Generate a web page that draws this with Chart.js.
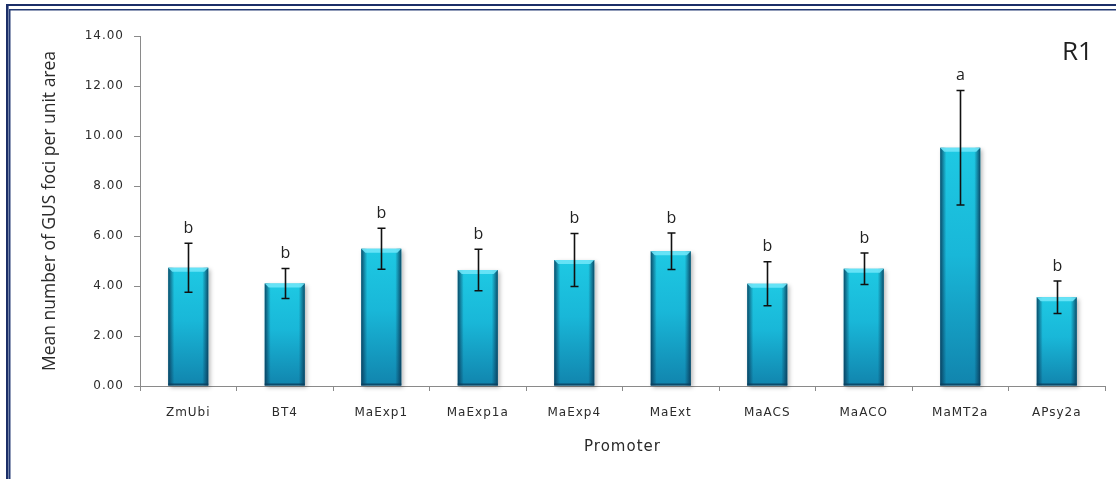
<!DOCTYPE html>
<html>
<head>
<meta charset="utf-8">
<script src="https://cdn.jsdelivr.net/npm/chart.js@4/dist/chart.umd.min.js"></script>
<style>
  html, body { margin: 0; padding: 0; background: #ffffff; }
  canvas { display: block; }
</style>
</head>
<body>
<canvas id="chart" width="1116" height="479"></canvas>
<script>
// Mean GUS foci per unit area for each promoter construct (R1)
const promoters = ['ZmUbi', 'BT4', 'MaExp1', 'MaExp1a', 'MaExp4', 'MaExt', 'MaACS', 'MaACO', 'MaMT2a', 'APsy2a'];
const meanFoci = [4.73, 4.10, 5.49, 4.64, 5.04, 5.39, 4.09, 4.69, 9.53, 3.55];
const errorFoci = [0.98, 0.60, 0.82, 0.83, 1.06, 0.73, 0.88, 0.63, 2.29, 0.65];
const groupLetters = ['b', 'b', 'b', 'b', 'b', 'b', 'b', 'b', 'a', 'b'];
const yTickValues = [0, 2, 4, 6, 8, 10, 12, 14];
const panelLabel = 'R1';

const AXIS_GREY = '#8a8a8a';
const TEXT_GREY = '#2b2b2b';

// Wide Excel-style spacing for axis text
function spaced(chart) { chart.ctx.letterSpacing = '1px'; }

const spacingPlugin = {
  id: 'spacing',
  beforeUpdate: spaced,
  beforeLayout: spaced,
  beforeDraw: spaced,
  afterLayout(chart) {
    const y = chart.scales.y;
    if (y && !y._plainTitle) {
      const orig = y.drawTitle;
      y.drawTitle = function (...args) {
        const c = this.ctx;
        c.save();
        c.letterSpacing = '0px';
        orig.apply(this, args);
        c.restore();
      };
      y._plainTitle = true;
    }
  }
};

// Soft drop shadow under each bar
const shadowPlugin = {
  id: 'barShadow',
  beforeDatasetsDraw(chart) {
    const ctx = chart.ctx;
    const meta = chart.getDatasetMeta(0);
    ctx.save();
    ctx.filter = 'blur(2px)';
    ctx.fillStyle = 'rgba(0,0,0,0.28)';
    meta.data.forEach(el => {
      const w = el.width;
      ctx.fillRect(el.x - w / 2 + 2, el.y + 2, w, el.base - el.y);
    });
    ctx.restore();
  }
};

// Bevel: dark side edges and a light top facet
const bevelPlugin = {
  id: 'bevel',
  afterDatasetsDraw(chart) {
    const ctx = chart.ctx;
    const meta = chart.getDatasetMeta(0);
    ctx.save();
    meta.data.forEach(el => {
      const w = el.width, l = el.x - w / 2, r = el.x + w / 2, t = el.y, b = el.base;
      let g = ctx.createLinearGradient(l, 0, l + 6, 0);
      g.addColorStop(0, 'rgba(8,55,85,0.85)');
      g.addColorStop(1, 'rgba(8,55,85,0)');
      ctx.fillStyle = g;
      ctx.fillRect(l, t, 6, b - t);
      g = ctx.createLinearGradient(r, 0, r - 6, 0);
      g.addColorStop(0, 'rgba(8,55,85,0.85)');
      g.addColorStop(1, 'rgba(8,55,85,0)');
      ctx.fillStyle = g;
      ctx.fillRect(r - 6, t, 6, b - t);
      // top facet
      ctx.beginPath();
      ctx.moveTo(l, t);
      ctx.lineTo(r, t);
      ctx.lineTo(r - 4, t + 4);
      ctx.lineTo(l + 4, t + 4);
      ctx.closePath();
      ctx.fillStyle = 'rgba(110,230,248,0.9)';
      ctx.fill();
      // bottom edge
      ctx.fillStyle = 'rgba(10,60,90,0.8)';
      ctx.fillRect(l, b - 2, w, 2);
    });
    ctx.restore();
  }
};

// Error bars and significance letters
const errorPlugin = {
  id: 'errorBars',
  afterDatasetsDraw(chart) {
    const ctx = chart.ctx;
    const y = chart.scales.y;
    const meta = chart.getDatasetMeta(0);
    ctx.save();
    ctx.letterSpacing = '0px';
    ctx.strokeStyle = '#111';
    ctx.lineWidth = 1.6;
    meta.data.forEach((el, i) => {
      const hi = y.getPixelForValue(meanFoci[i] + errorFoci[i]);
      const lo = y.getPixelForValue(meanFoci[i] - errorFoci[i]);
      const x = Math.round(el.x) + 0.5;
      ctx.beginPath();
      ctx.moveTo(x, hi); ctx.lineTo(x, lo);
      ctx.moveTo(x - 4, hi); ctx.lineTo(x + 4, hi);
      ctx.moveTo(x - 4, lo); ctx.lineTo(x + 4, lo);
      ctx.stroke();
      ctx.fillStyle = '#222';
      ctx.font = '16px "Open Sans"';
      ctx.textAlign = 'center';
      ctx.textBaseline = 'middle';
      ctx.fillText(groupLetters[i], x, hi - 15);
    });
    ctx.restore();
  }
};

// Panel tag and double frame
const framePlugin = {
  id: 'frame',
  afterDraw(chart) {
    const ctx = chart.ctx;
    ctx.save();
    ctx.letterSpacing = '0px';
    ctx.fillStyle = '#1f1f1f';
    ctx.font = '26px "Open Sans"';
    ctx.textAlign = 'left';
    ctx.textBaseline = 'alphabetic';
    ctx.fillText(panelLabel, 1062, 60);
    // frame lines
    ctx.fillStyle = '#1c2f68';
    ctx.fillRect(6, 4, 1110, 2);
    ctx.fillRect(6, 4, 2, 475);
    ctx.fillStyle = '#7483aa';
    ctx.fillRect(8, 6, 1, 473);
    ctx.fillStyle = '#243a74';
    ctx.fillRect(9, 9, 1107, 1.5);
    ctx.fillRect(9, 9, 1.5, 470);
    ctx.restore();
  }
};

const ctx = document.getElementById('chart').getContext('2d');
new Chart(ctx, {
  type: 'bar',
  data: {
    labels: promoters,
    datasets: [{
      data: meanFoci,
      backgroundColor(c) {
        const chart = c.chart;
        if (!chart.chartArea || c.type !== 'data') return '#18b6d4';
        const ys = chart.scales.y;
        const top = ys.getPixelForValue(c.raw);
        const base = ys.getPixelForValue(0);
        const g = chart.ctx.createLinearGradient(0, top, 0, base);
        g.addColorStop(0, '#1ec9e3');
        g.addColorStop(0.45, '#19b7d8');
        g.addColorStop(1, '#1184ad');
        return g;
      },
      borderWidth: 0,
      barPercentage: 0.415,
      categoryPercentage: 1.0
    }]
  },
  options: {
    responsive: false,
    animation: false,
    devicePixelRatio: 1,
    layout: { padding: { left: 0, right: 11, top: 36, bottom: 0 } },
    plugins: {
      legend: { display: false },
      tooltip: { enabled: false }
    },
    scales: {
      x: {
        offset: true,
        grid: { offset: true, drawOnChartArea: false, drawTicks: true, tickLength: 5, color: AXIS_GREY },
        border: { color: AXIS_GREY, width: 1 },
        ticks: { color: TEXT_GREY, font: { family: 'DejaVu Sans', size: 12 }, padding: 15, maxRotation: 0, autoSkip: false },
        title: { display: true, text: 'Promoter', color: '#2a2a2a', font: { family: 'DejaVu Sans', size: 15 }, padding: { top: 4, bottom: 23 } },
        afterFit(s) { s.height = 93; }
      },
      y: {
        min: 0,
        max: 14,
        afterBuildTicks(s) { s.ticks = yTickValues.map(v => ({ value: v })); },
        grid: { drawOnChartArea: false, drawTicks: true, tickLength: 6, color: AXIS_GREY },
        border: { color: AXIS_GREY, width: 1 },
        ticks: { color: TEXT_GREY, font: { family: 'DejaVu Sans', size: 12 }, padding: 10, callback: v => Number(v).toFixed(2) },
        title: { display: true, text: 'Mean number of GUS foci per unit area', color: '#2a2a2a', font: { family: 'Open Sans', size: 17.5 }, padding: { top: 40, bottom: 0 } },
        afterFit(s) { s.width = 140; }
      }
    }
  },
  plugins: [spacingPlugin, shadowPlugin, bevelPlugin, errorPlugin, framePlugin]
});
</script>
</body>
</html>
